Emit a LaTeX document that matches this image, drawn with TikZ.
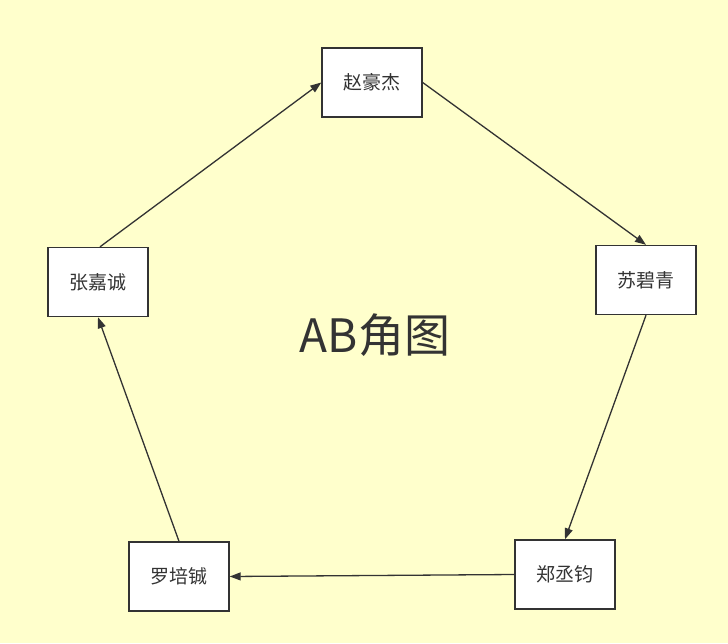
\documentclass[tikz,border=0pt]{standalone}
\usepackage{fontspec}
\setmainfont{Noto Sans CJK SC}
\usetikzlibrary{arrows.meta}
\definecolor{bg}{HTML}{FFFFCC}
\definecolor{ink}{HTML}{333333}
\begin{document}
\begin{tikzpicture}[x=1pt,y=-1pt,
  person/.style={draw=ink,line width=1.4pt,fill=white,minimum width=100pt,minimum height=69pt,inner sep=0pt,text=ink,font=\fontsize{19}{22}\selectfont},
  link/.style={draw=ink,line width=1.3pt,-{Triangle[length=11pt,width=8pt]}}]
\fill[bg] (0,0) rectangle (728,643);
\useasboundingbox (0,0) rectangle (728,643);
\node[person] (zhao) at (372,82.5) {赵豪杰};
\node[person] (su) at (646,280) {苏碧青};
\node[person] (zheng) at (565,574.5) {郑丞钧};
\node[person] (luo) at (179,576.5) {罗培铖};
\node[person] (zhang) at (98,282) {张嘉诚};
\node[text=ink,font=\fontsize{46}{52}\selectfont] (title) at (375,335) {AB角图};
\draw[link] ([xshift=2pt]zhang.north) -- (zhao.west);
\draw[link] (zhao.east) -- (su.north);
\draw[link] (su.south) -- (zheng.north);
\draw[link] (zheng.west) -- (luo.east);
\draw[link] (luo.north) -- (zhang.south);
\end{tikzpicture}
\end{document}
